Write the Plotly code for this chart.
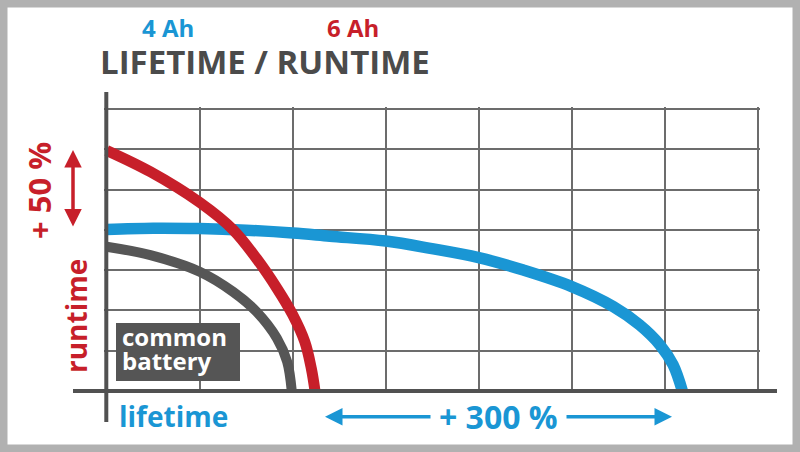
import plotly.graph_objects as go

# ---- data (grid units: x = lifetime cells, y = runtime cells) ----
blue_x = [0, 0.5, 1.0, 1.5, 2.0, 2.4, 3.0, 3.48, 4.0, 4.48, 5.0, 5.45, 5.73, 5.95, 6.09, 6.19]
blue_y = [4.01, 4.04, 4.03, 3.99, 3.92, 3.84, 3.72, 3.54, 3.31, 3.0, 2.59, 2.09, 1.64, 1.14, 0.65, 0]

red_x = [0, 0.47, 1.0, 1.36, 1.61, 1.83, 2.0, 2.13, 2.2, 2.24]
red_y = [5.97, 5.44, 4.68, 4.0, 3.29, 2.55, 1.89, 1.22, 0.56, 0]

gray_x = [0, 0.47, 1.0, 1.36, 1.61, 1.83, 1.94, 1.99]
gray_y = [3.58, 3.37, 2.96, 2.46, 1.97, 1.31, 0.73, 0]

grid_ticks = [0, 1, 2, 3, 4, 5, 6, 7]

label_4ah = "4 Ah"
label_6ah = "6 Ah"
title_text = "LIFETIME / RUNTIME"
label_runtime = "runtime"
label_lifetime = "lifetime"
label_plus50 = "+ 50 %"
label_plus300 = "+ 300 %"
label_common_1 = "common"
label_common_2 = "battery"

BLUE = "#1a96d4"
RED = "#c71f2a"
DARK = "#565656"
TITLE = "#4b4b4b"
GRID = "#6c6c6c"
FONT = "Open Sans"

# ---- layout geometry (pixels) ----
W_FIG, H_FIG = 800, 452
L, T, PW, PH = 104, 107, 656, 286
CELL_X, CELL_Y = 93.0, 40.3
X0_PX, Y0_PX = 106.7, 391.0
xr = [(L - X0_PX) / CELL_X, (L - X0_PX) / CELL_X + PW / CELL_X]
yr = [-(T + PH - Y0_PX) / CELL_Y, -(T + PH - Y0_PX) / CELL_Y + PH / CELL_Y]


def px(p):
    return (p - L) / PW


def py(p):
    return 1 - (p - T) / PH


fig = go.Figure()
fig.add_trace(go.Scatter(x=gray_x, y=gray_y, mode="lines",
                         line=dict(color=DARK, width=10, shape="spline", smoothing=1.0),
                         hoverinfo="skip", showlegend=False))
fig.add_trace(go.Scatter(x=blue_x, y=blue_y, mode="lines",
                         line=dict(color=BLUE, width=11.5, shape="spline", smoothing=1.0),
                         hoverinfo="skip", showlegend=False))
fig.add_trace(go.Scatter(x=red_x, y=red_y, mode="lines",
                         line=dict(color=RED, width=11, shape="spline", smoothing=1.0),
                         hoverinfo="skip", showlegend=False))

axis_common = dict(showticklabels=False, ticks="", zeroline=False, showline=False,
                   showgrid=True, gridcolor=GRID, gridwidth=1.8, fixedrange=True)
fig.update_xaxes(range=xr, tickmode="array", tickvals=grid_ticks, **axis_common)
fig.update_yaxes(range=yr, tickmode="array", tickvals=grid_ticks, **axis_common)

shapes = [
    # thick axis lines
    dict(type="line", xref="paper", yref="paper", x0=px(73), x1=px(777), y0=py(391), y1=py(391),
         line=dict(color="#515151", width=4), layer="above"),
    dict(type="line", xref="paper", yref="paper", x0=px(106.3), x1=px(106.3), y0=py(92), y1=py(422),
         line=dict(color="#515151", width=4), layer="above"),
    # common battery box
    dict(type="rect", xref="paper", yref="paper", x0=px(116), x1=px(240), y0=py(381), y1=py(323),
         fillcolor="#555555", line=dict(width=0), layer="above"),
    # outer frame
    dict(type="rect", xref="paper", yref="paper", x0=px(0), x1=px(800), y0=py(452), y1=py(0),
         line=dict(color="#b1b1b1", width=15), fillcolor="rgba(0,0,0,0)", layer="above"),
]


def txt(text, x, y, size, color, angle=0, xanchor="center", yanchor="middle", align="center"):
    return dict(text=text, xref="paper", yref="paper", x=px(x), y=py(y), showarrow=False,
                xanchor=xanchor, yanchor=yanchor, align=align, textangle=angle,
                font=dict(family=FONT, size=size, color=color, weight="bold"))


annotations = [
    txt(label_4ah, 168, 28, 24, BLUE),
    txt(label_6ah, 353, 28, 24, RED),
    txt(title_text, 264.5, 61, 33, TITLE),
    txt(label_plus50, 39, 191, 31, RED, angle=-90),
    txt(label_runtime, 76, 316, 28, RED, angle=-90),
    txt(label_lifetime, 117, 416, 28, BLUE, xanchor="left"),
    txt(label_plus300, 498.5, 416.5, 32, BLUE),
    txt(label_common_1, 120, 336.5, 24, "white", xanchor="left", align="left"),
    txt(label_common_2, 120, 360.5, 24, "white", xanchor="left", align="left"),
]

# arrows
arrow_common = dict(xref="paper", yref="paper", text="", showarrow=True,
                    arrowhead=2, arrowsize=1, arrowwidth=3.5)
annotations.append(dict(x=px(73), y=py(150), ax=0, ay=78, arrowcolor=RED,
                        arrowside="end+start", startarrowhead=2, startarrowsize=1,
                        **arrow_common))
annotations.append(dict(x=px(325), y=py(416.7), ax=107, ay=0, arrowcolor=BLUE, **arrow_common))
annotations.append(dict(x=px(672), y=py(416.7), ax=-107, ay=0, arrowcolor=BLUE, **arrow_common))

fig.update_layout(
    width=W_FIG, height=H_FIG,
    margin=dict(l=L, r=W_FIG - L - PW, t=T, b=H_FIG - T - PH, pad=0),
    paper_bgcolor="white", plot_bgcolor="white",
    shapes=shapes, annotations=annotations,
    showlegend=False,
)

fig.write_html("out.html", config={"displayModeBar": False},
               post_script="document.body.style.margin='0px';document.body.style.overflow='hidden';")
